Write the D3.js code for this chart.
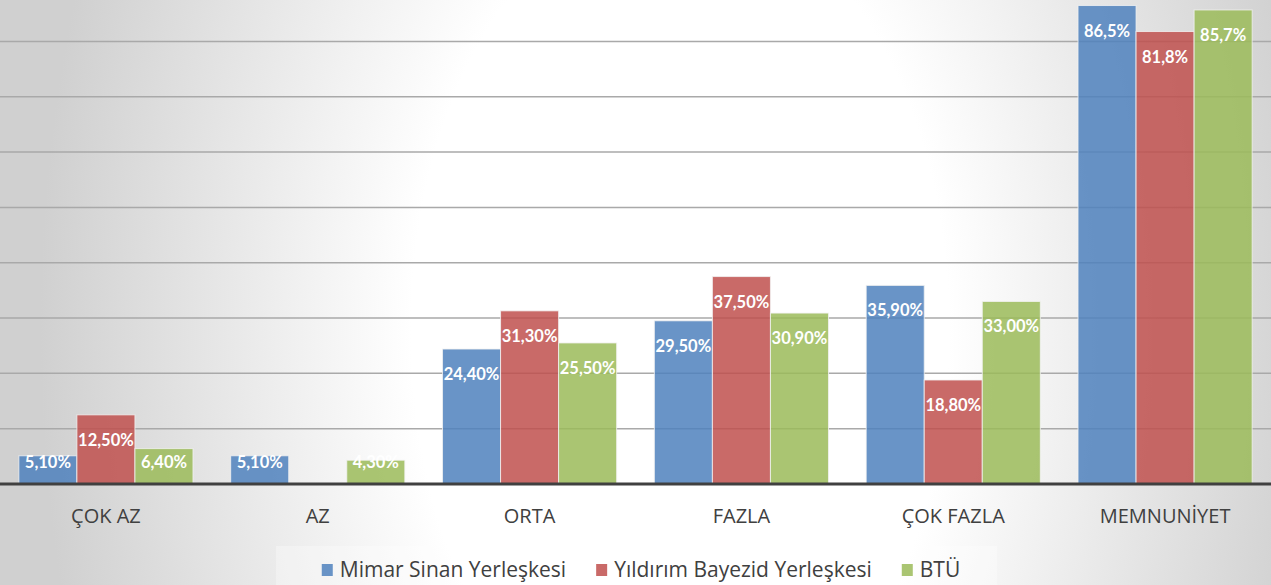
<!DOCTYPE html>
<html>
<head>
<meta charset="utf-8">
<script src="https://cdn.jsdelivr.net/npm/d3@7"></script>
<style>
  html, body { margin: 0; padding: 0; overflow: hidden; }
  #chart { width: 1271px; height: 585px; }
</style>
</head>
<body>
<div id="chart"></div>
<script>
// data
const categories = ['ÇOK AZ', 'AZ', 'ORTA', 'FAZLA', 'ÇOK FAZLA', 'MEMNUNİYET']
const seriesNames = ['Mimar Sinan Yerleşkesi', 'Yıldırım Bayezid Yerleşkesi', 'BTÜ']
const mimarSinan = [5.1, 5.1, 24.4, 29.5, 35.9, 86.5]
const yildirimBayezid = [12.5, null, 31.3, 37.5, 18.8, 81.8]
const btu = [6.4, 4.3, 25.5, 30.9, 33.0, 85.7]
// labels as written on the chart
const mimarSinanLabels = ['5,10%', '5,10%', '24,40%', '29,50%', '35,90%', '86,5%']
const yildirimBayezidLabels = ['12,50%', '', '31,30%', '37,50%', '18,80%', '81,8%']
const btuLabels = ['6,40%', '4,30%', '25,50%', '30,90%', '33,00%', '85,7%']
const gridTicks = [10, 20, 30, 40, 50, 60, 70, 80]

const colors = ['#4f81bd', '#c0504d', '#9bbb59']

const width = 1271
const height = 585
const baseY = 484

const svg = d3.select('#chart')
  .append('svg')
  .attr('width', width)
  .attr('height', height)

// background: soft radial gradient, white in the middle
const defs = svg.append('defs')
const grad = defs.append('radialGradient')
  .attr('id', 'bg')
  .attr('gradientUnits', 'userSpaceOnUse')
  .attr('cx', 680).attr('cy', 330).attr('r', 640)
  .attr('gradientTransform', 'translate(680,330) scale(1,1.6) translate(-680,-330)')
grad.append('stop').attr('offset', '0').attr('stop-color', '#ffffff')
grad.append('stop').attr('offset', '0.42').attr('stop-color', '#ffffff')
grad.append('stop').attr('offset', '1').attr('stop-color', '#d0d0d0')

svg.append('rect')
  .attr('width', width)
  .attr('height', height)
  .attr('fill', 'url(#bg)')

const x = d3.scaleBand()
  .domain(categories)
  .range([0, width])
  .paddingInner(0.178)
  .paddingOuter(0.089)

const xs = d3.scaleBand()
  .domain(seriesNames)
  .range([0, x.bandwidth()])

const y = d3.scaleLinear()
  .domain([0, 87.5])
  .range([baseY, 0])

// gridlines
svg.append('g')
  .selectAll('line')
  .data(gridTicks)
  .enter()
  .append('line')
  .attr('x1', 0)
  .attr('x2', width)
  .attr('y1', d => y(d))
  .attr('y2', d => y(d))
  .attr('stroke', '#a9a9a9')
  .attr('stroke-width', 1.5)

const series = [
  { name: seriesNames[0], values: mimarSinan, labels: mimarSinanLabels },
  { name: seriesNames[1], values: yildirimBayezid, labels: yildirimBayezidLabels },
  { name: seriesNames[2], values: btu, labels: btuLabels }
]

// bars
series.forEach((s, si) => {
  const rows = categories.map((c, i) => ({ cat: c, v: s.values[i], label: s.labels[i] }))
    .filter(d => d.v != null)
  const g = svg.append('g')
  g.selectAll('rect')
    .data(rows)
    .enter()
    .append('rect')
    .attr('x', d => x(d.cat) + xs(s.name))
    .attr('y', d => y(d.v))
    .attr('width', xs.bandwidth())
    .attr('height', d => baseY - y(d.v))
    .attr('fill', colors[si])
    .attr('fill-opacity', 0.85)
    .attr('stroke', '#f2f2f2')
    .attr('stroke-opacity', 0.8)
    .attr('stroke-width', 1)

  g.selectAll('text')
    .data(rows)
    .enter()
    .append('text')
    .attr('x', d => x(d.cat) + xs(s.name) + xs.bandwidth() / 2)
    .attr('y', d => Math.min(y(d.v) + 31, 468))
    .attr('text-anchor', 'middle')
    .attr('font-family', 'Lato, "Open Sans", sans-serif')
    .attr('font-weight', 'bold')
    .attr('font-size', 16.5)
    .attr('fill', '#ffffff')
    .text(d => d.label)
})

// baseline
svg.append('line')
  .attr('x1', 0)
  .attr('x2', width)
  .attr('y1', baseY)
  .attr('y2', baseY)
  .attr('stroke', '#404040')
  .attr('stroke-width', 3)

// category labels
svg.append('g')
  .selectAll('text')
  .data(categories)
  .enter()
  .append('text')
  .attr('x', d => x(d) + x.bandwidth() / 2)
  .attr('y', 523)
  .attr('text-anchor', 'middle')
  .attr('font-family', '"Open Sans", sans-serif')
  .attr('font-size', 20)
  .attr('fill', '#404040')
  .text(d => d)

// legend
svg.append('rect')
  .attr('x', 276)
  .attr('y', 546)
  .attr('width', 721)
  .attr('height', 40)
  .attr('fill', '#ffffff')
  .attr('fill-opacity', 0.3)

const legend = svg.append('g')
let lx = 0
series.forEach((s, si) => {
  const item = legend.append('g').attr('transform', 'translate(' + lx + ',0)')
  item.append('rect')
    .attr('x', 0)
    .attr('y', 564)
    .attr('width', 11)
    .attr('height', 12)
    .attr('fill', colors[si])
    .attr('fill-opacity', 0.85)
  const t = item.append('text')
    .attr('x', 18)
    .attr('y', 577)
    .attr('font-family', '"Open Sans", sans-serif')
    .attr('font-size', 21)
    .attr('fill', '#404040')
    .text(s.name)
  lx += 18 + t.node().getComputedTextLength() + 30
})
const legendW = lx - 30
legend.attr('transform', 'translate(' + (641 - legendW / 2) + ',0)')
</script>
</body>
</html>
